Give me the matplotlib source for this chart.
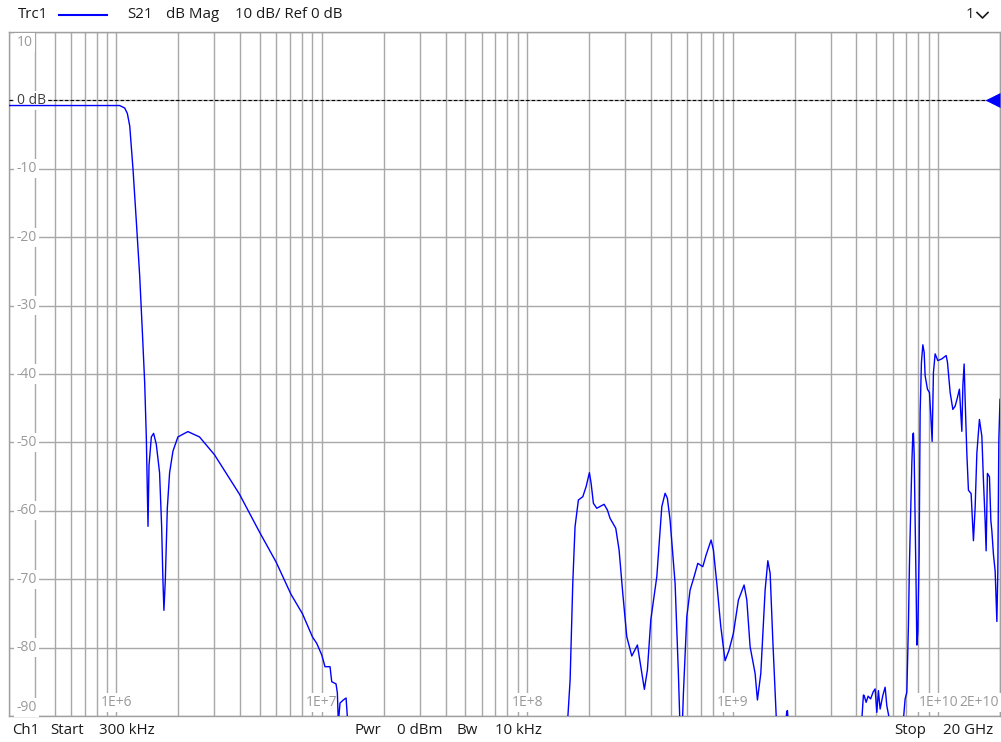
import numpy as np
import matplotlib
matplotlib.use("Agg")
import matplotlib.pyplot as plt
from matplotlib.ticker import LogLocator, FixedLocator
import matplotlib.transforms as mtransforms

plt.rcParams['font.family'] = ['Open Sans', 'DejaVu Sans']

# S21 trace: frequency in MHz, magnitude in dB
# (values below -90 dB are off the bottom of the display)
freq_mhz = [
    0.300, 0.832, 1.037, 1.097, 1.13, 1.161, 1.204, 1.251, 1.298, 1.336, 1.373,
    1.398, 1.409, 1.425, 1.441, 1.479, 1.517, 1.563, 1.622, 1.660, 1.684,
    1.703, 1.730, 1.769, 1.815, 1.884, 1.992, 2.228, 2.538, 3.002, 3.970,
    4.962, 5.990, 7.071, 8.052, 9.007, 9.44, 9.99, 10.36, 10.96, 11.17,
    11.72, 11.90, 12.03, 12.26, 12.72, 13.12, 13.37, 14.0, 150.0,
    156.2, 161.6, 166.5, 170.8, 177.3, 186.3, 193.3, 200.6, 204.5, 209.8,
    217.9, 236.5, 245.4, 252.9, 269.6, 279.8, 291.6, 305.0, 322.6, 343.6,
    356.9, 371.5, 384.3, 399.2, 427.0, 451.6, 468.6, 480.8, 495.5, 524.2,
    543.9, 554.4, 563.0, 575.4, 597.6, 620.2, 648.6, 676.1, 715.1, 742.1,
    784.8, 805.3, 836.7, 874.9, 918.0, 960.2, 1007.6, 1066, 1136, 1171,
    1215, 1285, 1319, 1370, 1438, 1482, 1521, 1567, 1639, 1779, 1833, 1846,
    1866, 1902, 4124,
    4250, 4327, 4361, 4461, 4561, 4690, 4823, 4934, 5028, 5119, 5218, 5378,
    5519, 5624, 5791, 5903, 6641, 6776, 6905, 7039, 7166, 7248, 7362, 7445,
    7528, 7579, 7640, 7725, 7812, 7874, 7962, 8080, 8170, 8291, 8422, 8546,
    8642, 8868, 9068, 9211, 9348, 9484, 9667, 9963, 10420, 10940, 11100,
    11440, 11790, 12100, 12410, 12690, 13040, 13190, 13380, 13530, 13790,
    14040, 14470, 14750, 14850, 15140, 15430, 15880, 16320, 16610, 16930,
    17120, 17370, 17770, 18050, 18250, 18580, 18940, 19310, 19520, 19740,
    20000,
]
s21_db = [
    -0.75, -0.75, -0.75, -1.11, -1.9, -3.73, -10.0, -17.84, -25.67, -33.52, -41.36,
    -49.2, -54.43, -62.27, -53.38, -49.2, -48.68, -50.25, -54.43, -62.27, -70.1,
    -74.55, -70.1, -59.65, -54.43, -51.29, -49.2, -48.42, -49.2, -51.81, -57.56,
    -63.06, -67.5, -72.19, -75.07, -78.46, -79.37, -81.08, -82.79, -82.79, -84.99,
    -85.3, -86.64, -91, -88.1, -87.66, -87.37, -91, -100, -100,
    -92, -84.74, -70.6, -62.32, -58.42, -57.94, -56.48, -54.43, -55.98, -58.9,
    -59.63, -59.05, -59.88, -61.1, -62.56, -65.73, -72.06, -78.4, -81.23, -79.62,
    -82.79, -86.1, -83.27, -75.96, -69.63, -59.4, -57.44, -58.17, -61.35, -70.6,
    -83.76, -92, -95, -86.68, -75.48, -71.58, -69.63, -67.68, -68.17, -66.46,
    -64.27, -65.73, -70.6, -76.94, -81.92, -80.35, -77.91, -73.04, -70.85, -73.04,
    -79.87, -83.76, -87.66, -83.76, -71.58, -67.3, -69.14, -78.89, -92, -93, -89.37, -89.2,
    -91, -95, -95,
    -90.5, -86.93, -87.0, -88.0, -87.1, -87.5, -86.5, -86.04, -89.47, -86.29, -88.98, -87.0,
    -85.79, -88.5, -90.5, -95, -95, -90.5, -87.5, -86.52, -76.68, -67.82, -59.44, -53.05,
    -48.87, -48.63, -51.58, -61.42, -71.27, -79.63, -77.66, -66.35, -45.67, -38.29, -35.73, -36.81,
    -40.25, -42.22, -42.72, -46.15, -49.85, -39.77, -37.06, -38.04, -37.79, -37.3, -38.29,
    -42.72, -45.18, -44.69, -43.45, -42.22, -48.38, -41.73, -38.54, -43.7, -51.58,
    -56.99, -57.49, -62.41, -64.37, -59.44, -51.58, -46.65, -49.11, -55.51, -61.42,
    -65.85, -54.53, -55.03, -61.42, -62.89, -66.35, -68.8, -76.18, -68.8, -49.6,
    -43.7,
]

f_start = 300e3
f_stop = 20e9
y_ticks = list(range(10, -100, -10))
x_labels = [(1e6, '1E+6'), (1e7, '1E+7'), (1e8, '1E+8'), (1e9, '1E+9'), (1e10, '1E+10')]

W, H = 1001, 742
fig = plt.figure(figsize=(W / 100, H / 100), dpi=100)
ax = fig.add_axes([9 / W, 1 - 716 / H, 991 / W, 684 / H])

freq = np.array(freq_mhz) * 1e6
ax.plot(freq, s21_db, color='#0000ff', lw=1.0, zorder=5)

ax.set_xscale('log')
ax.set_xlim(f_start, f_stop)
ax.set_ylim(-90, 10)
ax.xaxis.set_major_locator(LogLocator(base=10, subs=np.arange(1, 10), numticks=100))
ax.xaxis.set_minor_locator(FixedLocator([]))
ax.yaxis.set_major_locator(FixedLocator(y_ticks))
ax.tick_params(length=0, labelbottom=False, labelleft=False)
ax.grid(True, color='#a8a8a8', lw=1.0, zorder=0)
for s in ax.spines.values():
    s.set_color('#a0a0a0')
    s.set_linewidth(1.0)

# reference line at 0 dB
ax.axhline(0, color='black', lw=0.8, ls=(0, (3, 2)), zorder=3)
tri = [(-1, 0), (0, 0.5), (0, -0.5)]
ax.plot([f_stop], [0], marker=tri, ms=21.6, color='#0000ff', mec='none',
        clip_on=False, zorder=6)

# y labels inside the grid
box = dict(facecolor='white', edgecolor='none', pad=1.5)
trans_y = mtransforms.blended_transform_factory(ax.transAxes, ax.transData)
for v in y_ticks:
    yp = min(max(v, -88.8), 8.5)
    if v == 0:
        ax.text(0.0076, yp, '0 dB', transform=trans_y, ha='left', va='center',
                fontsize=10, color='#404040', bbox=box, zorder=4)
    else:
        ax.text(0.0076, yp, str(v), transform=trans_y, ha='left', va='center',
                fontsize=10, color='#9a9a9a', bbox=box, zorder=4)

for fx, lab in x_labels:
    ax.text(fx, -88.0, lab, ha='center', va='center', fontsize=10,
            color='#9a9a9a', bbox=box, zorder=4)
ax.text(0.999, -88.0, '2E+10', transform=trans_y, ha='right', va='center',
        fontsize=10, color='#9a9a9a', bbox=box, zorder=4)

def ftext(x, y, s, **kw):
    fig.text(x / W, 1 - y / H, s, fontsize=10.8, color='#1a1a1a', va='center', **kw)

# header
ftext(18, 15, 'Trc1')
fig.add_artist(plt.Line2D([59 / W, 107 / W], [1 - 15 / H, 1 - 15 / H],
                          color='#0000ff', lw=1.5))
ftext(127, 15, 'S21')
ftext(166, 15, 'dB Mag')
ftext(235, 15, '10 dB/ Ref 0 dB')
ftext(974, 15, '1', ha='right')
fig.add_artist(plt.Line2D([977 / W, 982.5 / W, 988 / W],
                          [1 - 12.5 / H, 1 - 18 / H, 1 - 12.5 / H],
                          color='#1a1a1a', lw=1.2))

# footer
ftext(12, 730, 'Ch1')
ftext(50, 730, 'Start')
ftext(99, 730, '300 kHz')
ftext(354, 730, 'Pwr')
ftext(397, 730, '0 dBm')
ftext(456, 730, 'Bw')
ftext(495, 730, '10 kHz')
ftext(894, 730, 'Stop')
ftext(943, 730, '20 GHz')

fig.savefig('out.png', dpi=100)
